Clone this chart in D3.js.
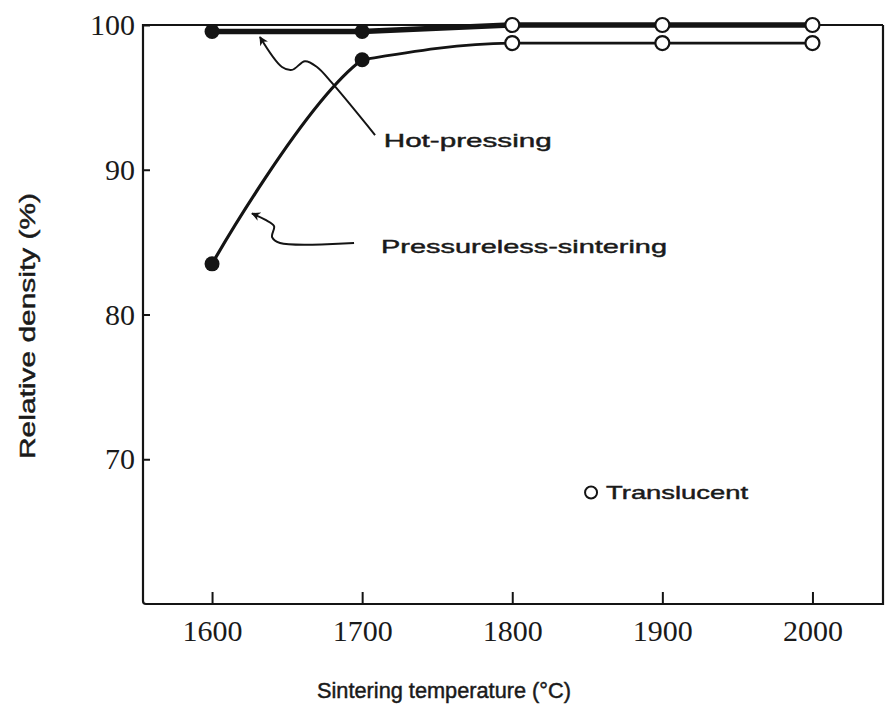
<!DOCTYPE html>
<html>
<head>
<meta charset="utf-8">
<script src="https://cdn.jsdelivr.net/npm/d3@7/dist/d3.min.js"></script>
<style>
  html, body { margin: 0; padding: 0; background: #fff; }
  svg { display: block; }
  .tick-label { font-family: "Liberation Serif", "DejaVu Serif", serif; font-size: 30px; fill: #1a1a1a; }
  .note { font-family: "Liberation Sans", Arial, sans-serif; font-size: 19px; fill: #1a1a1a; stroke: #1a1a1a; stroke-width: 0.45px; }
  .axis-title { font-size: 21.5px; }
</style>
</head>
<body>
<svg id="chart" width="885" height="716"></svg>
<script>
// Sintering temperature (°C) at which each sample was fired
const temperatures = [1600, 1700, 1800, 1900, 2000];
// Relative density (%) for each process
const hotPressing = [99.55, 99.55, 100.0, 100.0, 100.0];
const pressureless = [83.5, 97.6, 98.75, 98.75, 98.75];
// true where the fired body came out translucent (open marker)
const translucent = [false, false, true, true, true];

const xTicks = [1600, 1700, 1800, 1900, 2000];
const yTicks = [70, 80, 90, 100];
const xDomain = [1554, 2047];
const yDomain = [60, 100];

// Leader lines for the curve labels, in data units [temperature, density]
const hotLeader = [[1708.6, 92.4], [1679.9, 96.0], [1669.9, 97.1], [1661.9, 97.5],
                   [1653.3, 96.9], [1646.6, 97.1], [1631.9, 99.17]];
const pressLeader = [[1694.6, 84.94], [1645.3, 84.94], [1640.0, 85.35], [1641.3, 86.1],
                     [1635.3, 86.55], [1626.6, 86.98]];
const labels = [
  { text: "Hot-pressing", at: [1714.4, 91.6], width: 168 },
  { text: "Pressureless-sintering", at: [1712.6, 84.25], width: 286 },
  { text: "Translucent", at: [1862.5, 67.25], width: 142 }
];
const legendMarker = [1852.5, 67.7];

const ink = "#141414";
const svg = d3.select("#chart");

const x = d3.scaleLinear().domain(xDomain).range([143, 883]);
const y = d3.scaleLinear().domain(yDomain).range([604, 25]);

const defs = svg.append("defs");
// arrowhead for the leader lines
defs.append("marker")
  .attr("id", "arrow").attr("viewBox", "0 0 10 10")
  .attr("refX", 9).attr("refY", 5)
  .attr("markerWidth", 9).attr("markerHeight", 9)
  .attr("markerUnits", "userSpaceOnUse")
  .attr("orient", "auto-start-reverse")
  .append("path").attr("d", "M0,0 L10,5 L0,10 L3,5 Z").attr("fill", ink);

// frame
const [x0, x1] = x.range();
const [yb, yt] = y.range();
svg.append("path")
  .attr("d", `M${x1},${yt} L${x0},${yt} L${x0},${yb - 3} Q${x0},${yb} ${x0 + 3},${yb} L${x1},${yb} L${x1},${yt}`)
  .attr("fill", "none").attr("stroke", ink).attr("stroke-width", 2.2);

// x axis: inward ticks, serif labels
const xAxis = svg.append("g").attr("transform", `translate(0,${yb})`)
  .call(d3.axisBottom(x).tickValues(xTicks).tickFormat(d3.format("d")).tickSize(-12).tickPadding(16));
xAxis.select(".domain").remove();
xAxis.selectAll(".tick line").attr("stroke", ink).attr("stroke-width", 2);
xAxis.selectAll(".tick text").attr("class", "tick-label").attr("font-family", null).attr("font-size", null);

// y axis
const yAxis = svg.append("g").attr("transform", `translate(${x0},0)`)
  .call(d3.axisLeft(y).tickValues(yTicks).tickFormat(d3.format("d")).tickSize(-7).tickPadding(8));
yAxis.select(".domain").remove();
yAxis.selectAll(".tick line").attr("stroke", ink).attr("stroke-width", 2);
yAxis.selectAll(".tick text").attr("class", "tick-label").attr("font-family", null).attr("font-size", null);

// axis titles
svg.append("text").attr("class", "note axis-title")
  .attr("x", 444).attr("y", 698).attr("text-anchor", "middle")
  .attr("textLength", 254).attr("lengthAdjust", "spacingAndGlyphs")
  .text("Sintering temperature (°C)");
svg.append("text").attr("class", "note axis-title")
  .attr("transform", "translate(35,326) rotate(-90)").attr("text-anchor", "middle")
  .attr("textLength", 266).attr("lengthAdjust", "spacingAndGlyphs")
  .text("Relative density (%)");

// curves
const hpData = temperatures.map((t, i) => ({ t, v: hotPressing[i], open: translucent[i] }));
const psData = temperatures.map((t, i) => ({ t, v: pressureless[i], open: translucent[i] }));

svg.append("path").datum(hpData)
  .attr("d", d3.line().x(d => x(d.t)).y(d => y(d.v)))
  .attr("fill", "none").attr("stroke", ink).attr("stroke-width", 5.5);

// pressureless sintering: steep rising branch up to 1700 °C (cardinal spline,
// clipped at 1700 °C), then a monotone plateau from 1700 °C onwards
const kneeT = temperatures[1];
defs.append("clipPath").attr("id", "rise-clip")
  .append("rect").attr("x", 0).attr("y", 0)
  .attr("width", x(kneeT)).attr("height", yb + 10);
svg.append("path").datum(psData.slice(0, 3))
  .attr("clip-path", "url(#rise-clip)")
  .attr("d", d3.line().x(d => x(d.t)).y(d => y(d.v)).curve(d3.curveCardinal.tension(-0.15)))
  .attr("fill", "none").attr("stroke", ink).attr("stroke-width", 3.2);
svg.append("path").datum(psData.slice(1))
  .attr("d", d3.line().x(d => x(d.t)).y(d => y(d.v)).curve(d3.curveMonotoneX))
  .attr("fill", "none").attr("stroke", ink).attr("stroke-width", 2.8);

// markers: filled = opaque, open = translucent
function drawMarkers(data) {
  svg.append("g").selectAll("circle").data(data).join("circle")
    .attr("cx", d => x(d.t)).attr("cy", d => y(d.v))
    .attr("r", d => d.open ? 7 : 7.5)
    .attr("fill", d => d.open ? "#fff" : ink)
    .attr("stroke", ink).attr("stroke-width", d => d.open ? 2.2 : 0);
}
drawMarkers(hpData);
drawMarkers(psData);

// leader lines
const leader = d3.line().x(d => x(d[0])).y(d => y(d[1])).curve(d3.curveCatmullRom.alpha(0.5));
[hotLeader, pressLeader].forEach(pts => {
  svg.append("path").attr("d", leader(pts))
    .attr("fill", "none").attr("stroke", ink).attr("stroke-width", 2)
    .attr("marker-end", "url(#arrow)");
});

// labels
labels.forEach(l => {
  svg.append("text").attr("class", "note")
    .attr("x", x(l.at[0])).attr("y", y(l.at[1]))
    .attr("textLength", l.width).attr("lengthAdjust", "spacingAndGlyphs")
    .text(l.text);
});

// legend marker for "Translucent"
svg.append("circle")
  .attr("cx", x(legendMarker[0])).attr("cy", y(legendMarker[1])).attr("r", 6)
  .attr("fill", "#fff").attr("stroke", ink).attr("stroke-width", 2);
</script>
</body>
</html>
